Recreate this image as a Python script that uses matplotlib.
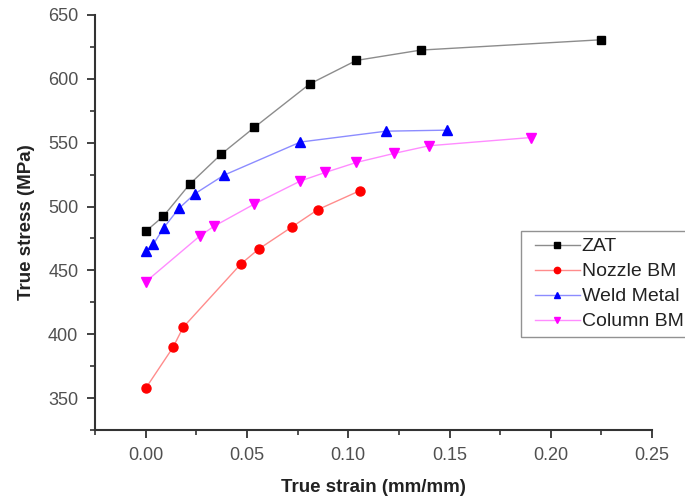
import matplotlib
matplotlib.use("Agg")
import matplotlib.pyplot as plt
from matplotlib.ticker import MultipleLocator
from matplotlib.legend_handler import HandlerLine2D

plt.rcParams['font.family'] = ['Liberation Sans', 'DejaVu Sans']

zat_x = [0.0, 0.0087, 0.0218, 0.0373, 0.0537, 0.081, 0.104, 0.1358, 0.225]
zat_y = [480.5, 492.3, 517.6, 541.0, 562.0, 596.0, 614.4, 622.5, 630.6]

nozzle_x = [0.0, 0.0135, 0.0185, 0.047, 0.0558, 0.0722, 0.0849, 0.1056]
nozzle_y = [357.6, 389.7, 405.4, 455.0, 466.7, 484.0, 497.5, 512.3]

weld_x = [0.0, 0.0038, 0.009, 0.0164, 0.0243, 0.0386, 0.0764, 0.1187, 0.1486]
weld_y = [465.0, 470.5, 483.5, 498.5, 510.0, 524.5, 550.5, 559.0, 559.8]

column_x = [0.0, 0.0268, 0.0337, 0.0537, 0.0764, 0.0887, 0.104, 0.1227, 0.14, 0.19]
column_y = [441.0, 477.0, 484.5, 502.0, 520.0, 526.7, 534.5, 541.6, 547.6, 554.0]

labels = ["ZAT", "Nozzle BM", "Weld Metal", "Column BM"]

fig = plt.figure(figsize=(6.85, 4.99), dpi=100)
ax = fig.add_axes([0.1387, 0.1383, 0.8133, 0.8317])

series = [
    (zat_x, zat_y, '#8c8c8c', 'black', 's', 6.0),
    (nozzle_x, nozzle_y, '#ff8c8c', 'red', 'o', 6.5),
    (weld_x, weld_y, '#8c8cff', 'blue', '^', 7.0),
    (column_x, column_y, '#ff8cff', 'magenta', 'v', 7.0),
]
lines = []
for (x, y, lc, mc, m, ms), lab in zip(series, labels):
    ln, = ax.plot(x, y, color=lc, lw=1.0, marker=m, markersize=ms,
                  markerfacecolor=mc, markeredgecolor=mc, label=lab)
    lines.append(ln)

ax.set_xlim(-0.025, 0.25)
ax.set_ylim(325, 650)
ax.xaxis.set_major_locator(MultipleLocator(0.05))
ax.xaxis.set_minor_locator(MultipleLocator(0.025))
ax.yaxis.set_major_locator(MultipleLocator(50))
ax.yaxis.set_minor_locator(MultipleLocator(25))
ax.xaxis.set_major_formatter(matplotlib.ticker.FormatStrFormatter('%.2f'))

for s in ['top', 'right']:
    ax.spines[s].set_visible(False)
for s in ['left', 'bottom']:
    ax.spines[s].set_linewidth(1.5)
    ax.spines[s].set_color('#333333')

ax.tick_params(which='major', direction='out', length=6, width=1.3,
               labelsize=13, colors='#333333', labelcolor='#505050', pad=6)
ax.tick_params(which='minor', direction='out', length=3.5, width=1.2, colors='#333333')

ax.set_xlabel("True strain (mm/mm)", fontsize=13.5, fontweight='bold', color='#222222', labelpad=11)
ax.set_ylabel("True stress (MPa)", fontsize=13.5, fontweight='bold', color='#222222', labelpad=9)

hmap = {ln: HandlerLine2D(xpad=0.36) for ln in lines}
leg = ax.legend(handles=lines, loc='upper left', bbox_to_anchor=(521 / 685, 1 - 231 / 499),
                bbox_transform=fig.transFigure, fontsize=14, frameon=True,
                fancybox=False, edgecolor='#777777', handlelength=2.68,
                handletextpad=0.1, labelspacing=0.38, borderpad=0.35,
                borderaxespad=0, markerscale=0.7, handler_map=hmap)
leg.get_frame().set_linewidth(1.0)
for t in leg.get_texts():
    t.set_color('#222222')

fig.savefig("out.png", dpi=100)
